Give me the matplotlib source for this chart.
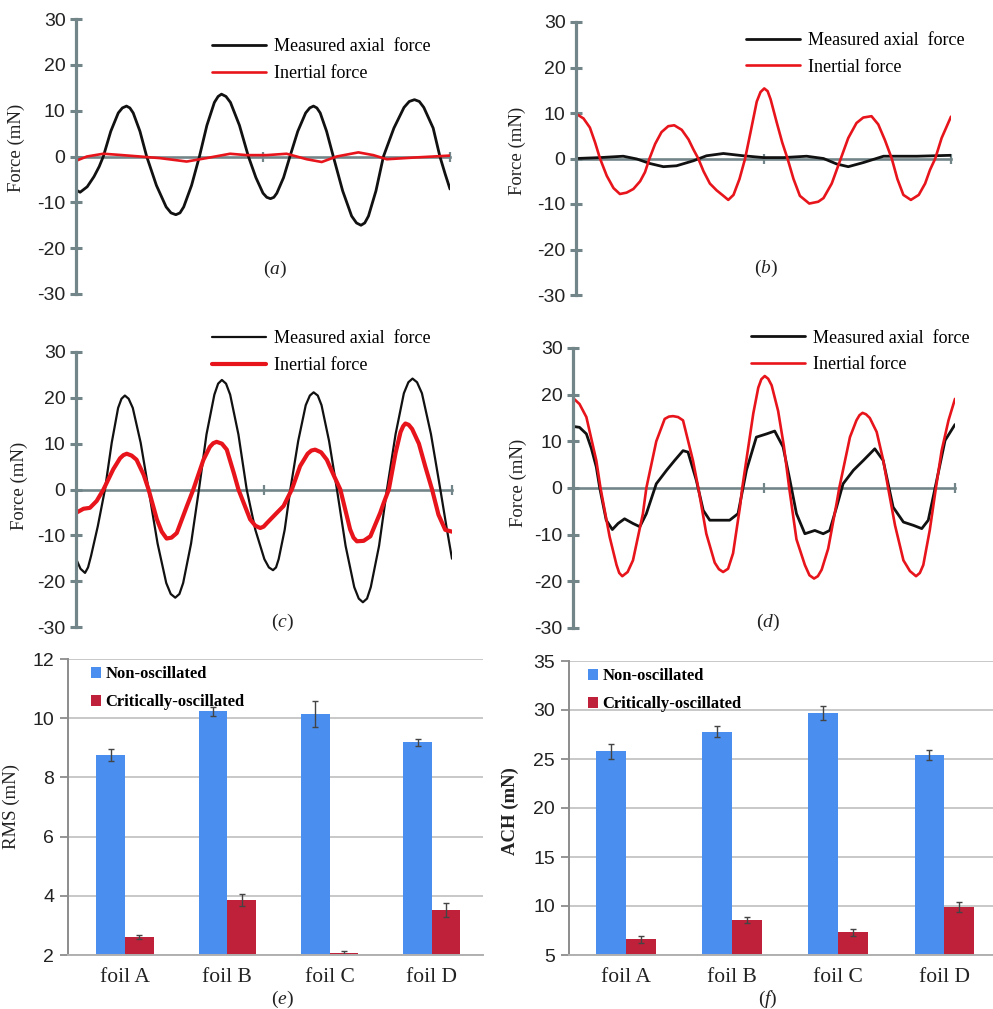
import matplotlib
matplotlib.use("Agg")
import matplotlib.pyplot as plt
import numpy as np

plt.rcParams['font.family'] = ['Liberation Sans', 'DejaVu Sans']
plt.rcParams['axes.unicode_minus'] = False
plt.rcParams['mathtext.fontset'] = 'custom'
plt.rcParams['mathtext.it'] = 'Liberation Serif:italic'
plt.rcParams['mathtext.rm'] = 'Liberation Serif'

SERIF = 'Liberation Serif'
AXC = '#72868a'
BLACK = '#111111'
RED = '#e8141b'
BLUE = '#4a8ff0'
CRIMSON = '#c0213a'

# ---- (a) ----
a_t = [0.000, 0.011, 0.030, 0.048, 0.062, 0.073, 0.093, 0.113, 0.124, 0.135, 0.144, 0.153, 0.171, 0.189,
       0.215, 0.241, 0.254, 0.267, 0.278, 0.288, 0.309, 0.330, 0.350, 0.370, 0.380, 0.389, 0.401, 0.413, 0.437, 0.461,
       0.481, 0.500, 0.510, 0.520, 0.529, 0.537, 0.555, 0.572, 0.593, 0.614, 0.625, 0.635, 0.644, 0.653, 0.670, 0.688,
       0.713, 0.737, 0.750, 0.762, 0.772, 0.782, 0.802, 0.822, 0.850, 0.877, 0.891, 0.905, 0.918, 0.930, 0.955, 0.973,
       0.987, 1.000]
a_black = [-7.3, -7.8, -6.6, -4.4, -2.2, 0.0, 5.5, 9.5, 10.6, 11.0, 10.6, 9.5, 5.5, 0.0,
           -6.3, -11.0, -12.3, -12.7, -12.3, -11.0, -6.3, 0.0, 6.8, 11.8, 13.1, 13.6, 13.1, 11.8, 6.8, 0.0,
           -4.6, -8.0, -8.9, -9.2, -8.9, -8.0, -4.6, 0.0, 5.5, 9.5, 10.6, 11.0, 10.6, 9.5, 5.5, 0.0,
           -7.5, -13.0, -14.5, -15.0, -14.5, -13.0, -7.5, 0.0, 6.2, 10.7, 12.0, 12.4, 12.0, 10.7, 6.2, 0.0,
           -3.8, -7.1]
a_rt = [0.000, 0.029, 0.073, 0.108, 0.171, 0.224, 0.296, 0.349, 0.412, 0.456,
        0.510, 0.563, 0.617, 0.657, 0.697, 0.755, 0.795, 0.831, 0.910, 1.000]
a_red = [-0.95, 0.0, 0.6, 0.4, 0.0, -0.35, -1.1, -0.35, 0.6, 0.3,
         0.3, 0.6, -0.6, -1.2, 0.0, 0.9, 0.3, -0.6, -0.2, 0.2]

# ---- (b) ----
b_t = [0.000, 0.020, 0.037, 0.051, 0.064, 0.082, 0.100, 0.117, 0.135, 0.153,
       0.171, 0.184, 0.196, 0.211, 0.228, 0.246, 0.262, 0.282, 0.300, 0.313,
       0.326, 0.340, 0.357, 0.375, 0.393, 0.406, 0.420, 0.436, 0.451, 0.466,
       0.482, 0.492, 0.502, 0.511, 0.519, 0.535, 0.550, 0.564, 0.580, 0.597, 0.622, 0.646,
       0.660, 0.682, 0.704, 0.726, 0.748, 0.766, 0.788, 0.806, 0.824,
       0.842, 0.857, 0.873, 0.893, 0.914, 0.931, 0.944, 0.958, 0.975, 1.000]
b_red = [9.85, 8.8, 6.8, 3.5, 0.0, -3.8, -6.5, -7.8, -7.5, -6.7,
         -5.0, -3.0, 0.0, 3.2, 5.8, 7.1, 7.3, 6.3, 4.2, 2.0,
         0.0, -2.8, -5.5, -7.0, -8.2, -9.1, -8.0, -4.5, 0.0, 6.0,
         12.5, 14.6, 15.4, 14.8, 13.0, 8.0, 3.5, 0.0, -4.5, -8.2, -9.9, -9.5,
         -8.7, -5.5, -0.5, 4.5, 7.8, 9.0, 9.3, 7.5, 4.0,
         0.0, -4.5, -8.0, -9.1, -8.0, -5.5, -2.5, 0.0, 4.5, 9.2]
b_bt = [0.000, 0.064, 0.126, 0.162, 0.197, 0.233, 0.268, 0.313, 0.348, 0.393, 0.446,
        0.500, 0.553, 0.615, 0.660, 0.695, 0.726, 0.766, 0.820, 0.909, 1.000]
b_black = [0.0, 0.2, 0.5, -0.1, -1.1, -1.8, -1.6, -0.5, 0.6, 1.1, 0.6,
           0.2, 0.2, 0.5, 0.0, -1.2, -1.8, -0.9, 0.5, 0.5, 0.7]

# ---- (c) ----
c_t = [0.000, 0.012, 0.024, 0.032, 0.040, 0.058, 0.077, 0.095, 0.112, 0.121, 0.130, 0.140, 0.151, 0.172,
       0.193, 0.217, 0.240, 0.252, 0.264, 0.275, 0.285, 0.306, 0.327, 0.347, 0.368, 0.378, 0.388, 0.399, 0.410, 0.432,
       0.454, 0.477, 0.501, 0.513, 0.524, 0.532, 0.539, 0.555, 0.570, 0.591, 0.611, 0.622, 0.632, 0.643, 0.653, 0.673,
       0.694, 0.717, 0.740, 0.752, 0.763, 0.774, 0.784, 0.806, 0.827, 0.850, 0.872, 0.884, 0.895, 0.907, 0.920, 0.944,
       0.969, 0.985, 1.000]
c_black = [-15.1, -17.3, -18.2, -17.0, -14.5, -8.0, 0.0, 10.2, 17.8, 19.8, 20.5, 19.8, 17.8, 10.2,
           0.0, -11.8, -20.4, -22.8, -23.6, -22.8, -20.4, -11.8, 0.0, 12.0, 20.7, 23.1, 23.9, 23.1, 20.7, 12.0,
           0.0, -8.8, -15.2, -17.0, -17.6, -17.0, -15.2, -8.8, 0.0, 10.6, 18.4, 20.5, 21.2, 20.5, 18.4, 10.6,
           0.0, -12.3, -21.3, -23.8, -24.6, -23.8, -21.3, -12.3, 0.0, 12.1, 21.0, 23.4, 24.2, 23.4, 21.0, 12.1,
           0.0, -8.0, -15.1]
c_rt = [0.000, 0.020, 0.037, 0.055, 0.073, 0.099, 0.117, 0.126, 0.135, 0.148, 0.161, 0.180,
        0.193, 0.215, 0.228, 0.241, 0.254, 0.268, 0.295, 0.312, 0.339, 0.356, 0.365, 0.374, 0.388, 0.401,
        0.420, 0.432, 0.463, 0.477, 0.490, 0.499, 0.508, 0.534, 0.552, 0.574, 0.596, 0.616, 0.626, 0.636, 0.652,
        0.667, 0.686, 0.703, 0.729, 0.738, 0.747, 0.765, 0.783, 0.809, 0.818, 0.832,
        0.850, 0.863, 0.870, 0.876, 0.885, 0.894, 0.912, 0.929, 0.947, 0.964, 0.982, 1.000]
c_red = [-5.1, -4.2, -4.0, -2.5, 0.0, 4.4, 6.8, 7.5, 7.8, 7.4, 6.5, 3.2,
         0.0, -6.5, -9.2, -10.7, -10.5, -9.5, -3.6, 0.0, 6.5, 9.3, 10.1, 10.4, 10.0, 8.7,
         3.5, 0.0, -6.5, -7.9, -8.4, -8.1, -7.3, -5.1, -3.6, 0.0, 5.1, 7.8, 8.5, 8.7, 8.1,
         6.5, 3.0, 0.0, -8.7, -10.5, -11.3, -11.2, -10.2, -5.1, -3.0, 0.0,
         8.0, 12.5, 13.8, 14.4, 14.1, 13.2, 10.0, 5.0, 0.0, -5.5, -8.8, -9.2]

# ---- (d) ----
d_rt = [0.000, 0.017, 0.035, 0.061, 0.072, 0.096, 0.114, 0.121, 0.129, 0.143, 0.157, 0.183, 0.192,
        0.218, 0.240, 0.251, 0.262, 0.275, 0.288, 0.314, 0.328, 0.349, 0.371, 0.382, 0.393, 0.406, 0.419,
        0.437, 0.443, 0.472, 0.485, 0.493, 0.502, 0.511, 0.520, 0.537, 0.552, 0.566, 0.585,
        0.607, 0.619, 0.631, 0.641, 0.651, 0.668, 0.690, 0.697, 0.725, 0.742, 0.750, 0.758, 0.767, 0.777,
        0.795, 0.812, 0.825, 0.843, 0.865, 0.882, 0.898, 0.908, 0.917, 0.934, 0.950, 0.965, 0.983, 1.000]
d_red = [19.3, 18.0, 15.2, 5.9, 0.0, -10.5, -16.5, -18.2, -18.9, -18.0, -15.5, -5.5, 0.0,
         10.0, 14.8, 15.3, 15.4, 15.2, 14.5, 5.9, 0.0, -9.8, -16.0, -17.4, -18.0, -17.3, -14.0,
         -4.1, 0.0, 16.0, 21.5, 23.3, 24.0, 23.4, 22.0, 16.5, 9.0, 0.0, -11.0,
         -16.5, -18.7, -19.4, -18.9, -17.5, -13.0, -3.3, 0.0, 10.9, 14.5, 15.6, 16.1, 15.8, 15.0,
         12.0, 6.0, 0.0, -8.0, -15.5, -17.8, -18.9, -18.2, -16.5, -9.0, 0.0, 8.0, 14.5, 19.1]
d_bt = [0.000, 0.017, 0.035, 0.048, 0.061, 0.070, 0.087, 0.103, 0.118, 0.135,
        0.157, 0.175, 0.192, 0.218, 0.245, 0.266, 0.288, 0.301, 0.323, 0.341,
        0.358, 0.384, 0.410, 0.432, 0.454, 0.480, 0.507, 0.528, 0.550, 0.568,
        0.585, 0.607, 0.633, 0.655, 0.672, 0.690, 0.707, 0.734, 0.760, 0.790,
        0.812, 0.838, 0.865, 0.891, 0.913, 0.930, 0.952, 0.974, 1.000]
d_black = [13.2, 13.0, 11.6, 8.5, 4.5, 0.0, -6.9, -8.9, -7.6, -6.6,
           -7.6, -8.3, -5.5, 0.9, 3.8, 5.9, 8.0, 7.7, 1.6, -4.8,
           -6.9, -6.9, -6.9, -5.5, 3.8, 10.9, 11.6, 12.2, 8.8, 1.6,
           -5.5, -9.8, -9.1, -9.8, -9.1, -4.1, 0.9, 3.8, 5.9, 8.4,
           5.9, -4.1, -7.3, -8.0, -8.7, -6.9, 1.6, 10.2, 13.6]

# ---- (e), (f) bar data ----
foils = ['foil A', 'foil B', 'foil C', 'foil D']
rms_non = [8.76, 10.23, 10.14, 9.18]
rms_non_err = [0.21, 0.16, 0.45, 0.12]
rms_crit = [2.60, 3.86, 2.06, 3.52]
rms_crit_err = [0.07, 0.21, 0.09, 0.23]
ach_non = [25.8, 27.8, 29.7, 25.4]
ach_non_err = [0.75, 0.55, 0.70, 0.55]
ach_crit = [6.6, 8.6, 7.3, 9.9]
ach_crit_err = [0.33, 0.30, 0.32, 0.55]

W, H = 993, 1009
fig = plt.figure(figsize=(W / 100, H / 100), dpi=100)


def px_axes(l, t, r, b):
    return fig.add_axes([l / W, 1 - b / H, (r - l) / W, (b - t) / H])


def panel_tag(tag, xy):
    fig.text(xy[0] / W, 1 - xy[1] / H, '(' + r'$\mathit{' + tag + '}$' + ')',
             family=SERIF, fontsize=14, ha='center', va='center', color='#222222')


def force_panel(box, series, leg_xy, label_y, label_x, tag, tag_xy):
    ax = px_axes(*box)
    for t, v, c, lw, name in series:
        ax.plot(t, v, color=c, lw=lw, label=name, solid_capstyle='round',
                solid_joinstyle='round')
    ax.set_xlim(0, 1)
    ax.set_ylim(-30, 30)
    for s in ['top', 'right']:
        ax.spines[s].set_visible(False)
    ax.spines['left'].set_color(AXC)
    ax.spines['left'].set_linewidth(2.3)
    ax.spines['bottom'].set_position(('data', 0))
    ax.spines['bottom'].set_color(AXC)
    ax.spines['bottom'].set_linewidth(1.9)
    ax.spines['bottom'].set_zorder(0.5)
    ax.set_yticks(range(-30, 31, 10))
    ax.tick_params(axis='y', direction='inout', length=9, width=2.2, color=AXC,
                   labelsize=14, pad=3, labelcolor='#222222')
    ax.set_xticks([0.5, 1.0])
    ax.set_xticklabels([])
    ax.tick_params(axis='x', direction='inout', length=7, width=1.6, color=AXC)
    ax.set_ylabel('Force (mN)', family=SERIF, fontsize=13.5, color='#222222')
    ax.yaxis.set_label_coords(label_x, label_y)
    handles, labels = ax.get_legend_handles_labels()
    order = [labels.index('Measured axial  force'), labels.index('Inertial force')]
    ax.legend([handles[i] for i in order], [labels[i] for i in order],
              loc='upper left', bbox_to_anchor=leg_xy, frameon=False,
              borderpad=0, borderaxespad=0, handlelength=3.0, handletextpad=0.45,
              labelspacing=0.55, prop={'family': SERIF, 'size': 13})
    panel_tag(tag, tag_xy)
    return ax


force_panel((76, 19, 450, 294),
            [(a_t, a_black, BLACK, 2.0, 'Measured axial  force'),
             (a_rt, a_red, RED, 1.9, 'Inertial force')],
            (0.364, 0.93), 0.53, -0.136, 'a', (275, 269))
force_panel((576, 22, 951, 295),
            [(b_bt, b_black, BLACK, 2.0, 'Measured axial  force'),
             (b_t, b_red, RED, 1.9, 'Inertial force')],
            (0.453, 0.964), 0.527, -0.133, 'b', (766, 268))
force_panel((76, 352, 452, 627),
            [(c_t, c_black, BLACK, 1.6, 'Measured axial  force'),
             (c_rt, c_red, RED, 3.0, 'Inertial force')],
            (0.362, 1.079), 0.513, -0.128, 'c', (282, 622))
force_panel((573, 348, 955, 628),
            [(d_bt, d_black, BLACK, 2.0, 'Measured axial  force'),
             (d_rt, d_red, RED, 1.9, 'Inertial force')],
            (0.466, 1.066), 0.52, -0.12, 'd', (768, 622))


def bar_panel(box, non, non_err, crit, crit_err, ylim, step, xlim, ylabel, bold_label,
              label_x, label_y, leg_xy, tag, tag_xy):
    ax = px_axes(*box)
    x = np.arange(len(foils))
    w = 0.28
    ekw = dict(ecolor='#444444', elinewidth=1.0, capsize=2, capthick=1.0)
    ax.bar(x - w / 2, non, w, yerr=non_err, color=BLUE, error_kw=ekw,
           label='Non-oscillated', zorder=2)
    ax.bar(x + w / 2, crit, w, yerr=crit_err, color=CRIMSON, error_kw=ekw,
           label='Critically-oscillated', zorder=2)
    ax.set_ylim(*ylim)
    ax.set_xlim(*xlim)
    ax.set_yticks(np.arange(ylim[0], ylim[1] + 0.1, step))
    ax.yaxis.grid(True, color='#c4c4c4', lw=1.3, zorder=0)
    ax.set_axisbelow(True)
    for s in ['top', 'right']:
        ax.spines[s].set_visible(False)
    ax.spines['left'].set_color('#8c8c8c')
    ax.spines['left'].set_linewidth(1.4)
    ax.spines['bottom'].set_color('#b0b0b0')
    ax.spines['bottom'].set_linewidth(1.4)
    ax.tick_params(axis='y', direction='out', length=6, width=1.3, color='#8c8c8c',
                   labelsize=14, pad=4, labelcolor='#222222')
    ax.set_xticks(x)
    ax.set_xticklabels(foils, family=SERIF, fontsize=15.5, color='#222222')
    ax.tick_params(axis='x', length=0, pad=9)
    ax.set_ylabel(ylabel, family=SERIF, fontsize=13.5, color='#222222',
                  fontweight='bold' if bold_label else 'normal')
    ax.yaxis.set_label_coords(label_x, label_y)
    ax.legend(loc='upper left', bbox_to_anchor=leg_xy, frameon=False,
              borderpad=0, borderaxespad=0, handlelength=0.62, handleheight=0.62,
              handletextpad=0.25, labelspacing=0.72,
              prop={'family': SERIF, 'size': 12, 'weight': 'bold'})
    panel_tag(tag, tag_xy)
    return ax


bar_panel((68, 659, 483, 955), rms_non, rms_non_err, rms_crit, rms_crit_err,
          (2, 12), 2, (-0.557, 3.5), 'RMS (mN)', False, -0.116, 0.503,
          (0.055, 0.976), 'e', (282, 999))
bar_panel((569, 661, 993, 955), ach_non, ach_non_err, ach_crit, ach_crit_err,
          (5, 35), 5, (-0.538, 3.46), 'ACH (mN)', True, -0.118, 0.49,
          (0.045, 0.976), 'f', (768, 999))

fig.savefig('out.png', dpi=100, facecolor='white')
